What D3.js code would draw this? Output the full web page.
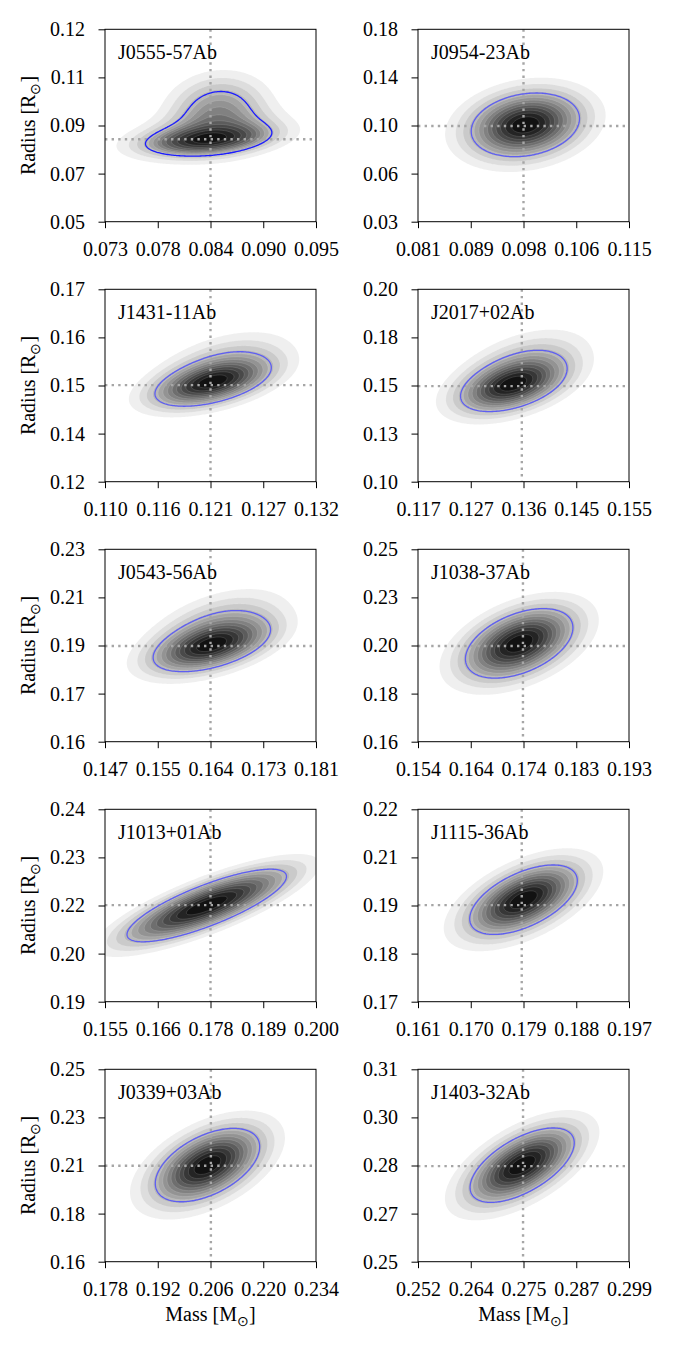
<!DOCTYPE html>
<html><head><meta charset="utf-8">
<script src="https://cdn.jsdelivr.net/npm/d3@7"></script>
<style>body{margin:0;background:#fff}</style>
</head><body>
<svg id="chart" width="675" height="1350"></svg>
<script>
// ---------------- DATA ----------------
const names = ["J0555-57Ab","J0954-23Ab","J1431-11Ab","J2017+02Ab","J0543-56Ab",
               "J1038-37Ab","J1013+01Ab","J1115-36Ab","J0339+03Ab","J1403-32Ab"];
const massTicks = [
  ["0.073","0.078","0.084","0.090","0.095"],
  ["0.081","0.089","0.098","0.106","0.115"],
  ["0.110","0.116","0.121","0.127","0.132"],
  ["0.117","0.127","0.136","0.145","0.155"],
  ["0.147","0.155","0.164","0.173","0.181"],
  ["0.154","0.164","0.174","0.183","0.193"],
  ["0.155","0.166","0.178","0.189","0.200"],
  ["0.161","0.170","0.179","0.188","0.197"],
  ["0.178","0.192","0.206","0.220","0.234"],
  ["0.252","0.264","0.275","0.287","0.299"]
];
const radiusTicks = [
  ["0.05","0.07","0.09","0.11","0.12"],
  ["0.03","0.06","0.10","0.14","0.18"],
  ["0.12","0.14","0.15","0.16","0.17"],
  ["0.10","0.13","0.15","0.18","0.20"],
  ["0.16","0.17","0.19","0.21","0.23"],
  ["0.16","0.18","0.20","0.23","0.25"],
  ["0.19","0.20","0.22","0.23","0.24"],
  ["0.17","0.18","0.19","0.21","0.22"],
  ["0.16","0.18","0.21","0.23","0.25"],
  ["0.25","0.27","0.28","0.30","0.31"]
];
const massMedian   = [0.0840, 0.0980, 0.1210, 0.1357, 0.1640, 0.1734, 0.1775, 0.1787, 0.2061, 0.2754];
const radiusMedian = [0.0800, 0.1046, 0.1451, 0.1497, 0.1948, 0.2048, 0.2151, 0.1951, 0.2049, 0.2798];
// posterior density, read from the picture as blobs:
// [mass centre, radius centre, mass spread, radius spread, correlation, weight]
const posteriorBlobs = [
  [[0.0836,0.0798,0.0036,0.0032,0.30,0.30],[0.0838,0.0810,0.0052,0.0055,0.30,0.30],[0.0848,0.0905,0.0032,0.0080,0.10,0.40]],
  [[0.0983,0.1055,0.0058,0.0165,0.20,1]],
  [[0.1210,0.1455,0.0037,0.0038,0.50,0.6],[0.1222,0.1495,0.0042,0.0055,0.45,0.4]],
  [[0.1338,0.1495,0.0058,0.0085,0.45,0.55],[0.1355,0.1575,0.0068,0.0120,0.45,0.45]],
  [[0.1640,0.1945,0.0058,0.0058,0.50,0.55],[0.1650,0.2005,0.0065,0.0085,0.45,0.45]],
  [[0.1727,0.2060,0.0066,0.0108,0.45,1]],
  [[0.1767,0.2150,0.0119,0.0066,0.80,1]],
  [[0.1790,0.1965,0.0061,0.0060,0.55,1]],
  [[0.2052,0.2052,0.0092,0.0114,0.50,1]],
  [[0.2752,0.2801,0.0077,0.0077,0.60,1]]
];
const credibleMass = 0.68;      // blue contour encloses this fraction
const lowestLevel = 0.08;       // outermost iso-proportion
const nLevels = 14;             // iso-proportion levels (lowest .. 1)

// ---------------- LAYOUT / STYLE ----------------
const FONT = "'Liberation Serif','Times New Roman',serif";
const colX = [105, 418], rowTop = 29.3, rowStep = 260, PW = 211, PH = 192.4;
const blueFirst = "#1c1cff", blueOther = "#5e5ef2";
const svg = d3.select("#chart").style("font-family", FONT);

function density(blobs, mx, ry) {
  let v = 0;
  for (const [cx, cy, sx, sy, r, w] of blobs) {
    const dx = (mx - cx) / sx, dy = (ry - cy) / sy;
    const q = (dx*dx - 2*r*dx*dy + dy*dy) / (1 - r*r);
    v += w / (2*Math.PI*sx*sy*Math.sqrt(1 - r*r)) * Math.exp(-q/2);
  }
  return v;
}
function quantileToLevel(vals, props) {
  const sorted = Array.from(vals).sort((a, b) => b - a);
  const tot = d3.sum(sorted);
  const cum = []; let c = 0;
  for (const s of sorted) { c += s; cum.push(c / tot); }
  return props.map(p => {
    const idx = Math.min(d3.bisectLeft(cum, 1 - p), sorted.length - 1);
    return sorted[idx];
  });
}

names.forEach((name, i) => {
  const col = i % 2, row = Math.floor(i / 2);
  const g = svg.append("g").attr("transform", `translate(${colX[col]},${rowTop + row*rowStep})`);
  const xd = [+massTicks[i][0], +massTicks[i][4]];
  const yd = [+radiusTicks[i][0], +radiusTicks[i][4]];
  const x = d3.scaleLinear().domain(xd).range([0, PW]);
  const y = d3.scaleLinear().domain(yd).range([PH, 0]);

  const clipId = "clip" + i;
  g.append("clipPath").attr("id", clipId).append("rect").attr("width", PW).attr("height", PH);

  // density grid
  const n = 160;
  const vals = new Float64Array(n*n);
  for (let j = 0; j < n; j++) {
    const ry = yd[1] - (j + 0.5)/n*(yd[1] - yd[0]);
    for (let k = 0; k < n; k++) {
      const mx = xd[0] + (k + 0.5)/n*(xd[1] - xd[0]);
      vals[j*n + k] = density(posteriorBlobs[i], mx, ry);
    }
  }
  const props = d3.range(nLevels).map(k => lowestLevel + k*(1 - lowestLevel)/(nLevels - 1));
  const levels = quantileToLevel(vals, props).slice(0, nLevels - 1);
  const proj = d3.geoTransform({
    point(px, py) {
      this.stream.point(x(xd[0] + px/n*(xd[1]-xd[0])), y(yd[1] - py/n*(yd[1]-yd[0])));
    }
  });
  const path = d3.geoPath(proj);
  const contours = d3.contours().size([n, n]).thresholds(levels)(vals);
  const shade = d3.scaleLinear().domain([0, levels.length - 1]).range(["#efefef", "#121212"]);
  const cg = g.append("g").attr("clip-path", `url(#${clipId})`);
  cg.selectAll("path.band").data(contours).join("path")
    .attr("class", "band").attr("d", path)
    .attr("fill", (d, k) => shade(k))
    .attr("stroke", "rgba(255,255,255,0.22)").attr("stroke-width", 0.6);

  // crosshair at medians
  cg.append("line").attr("x1", x(massMedian[i])).attr("x2", x(massMedian[i]))
    .attr("y1", 0).attr("y2", PH)
    .attr("stroke", "#a6a6a6").attr("stroke-width", 2.4).attr("stroke-dasharray", "2.4 4.2");
  cg.append("line").attr("y1", y(radiusMedian[i])).attr("y2", y(radiusMedian[i]))
    .attr("x1", 0).attr("x2", PW)
    .attr("stroke", "#a6a6a6").attr("stroke-width", 2.4).attr("stroke-dasharray", "2.4 4.2");

  // credible contour
  const lvl68 = quantileToLevel(vals, [1 - credibleMass])[0];
  const c68 = d3.contours().size([n, n]).thresholds([lvl68])(vals);
  cg.selectAll("path.cred").data(c68).join("path").attr("class", "cred")
    .attr("d", path).attr("fill", "none")
    .attr("stroke", i === 0 ? blueFirst : blueOther).attr("stroke-width", 1.3);

  // frame
  g.append("rect").attr("width", PW).attr("height", PH).attr("fill", "none")
    .attr("stroke", "#000").attr("stroke-width", 1);

  // axes
  const xt = d3.range(5).map(k => xd[0] + k*(xd[1]-xd[0])/4);
  const yt = d3.range(5).map(k => yd[0] + k*(yd[1]-yd[0])/4);
  const ax = g.append("g").attr("transform", `translate(0,${PH})`)
    .call(d3.axisBottom(x).tickValues(xt).tickFormat((d, k) => massTicks[i][k])
      .tickSizeInner(6.5).tickSizeOuter(0).tickPadding(13.3));
  const ay = g.append("g")
    .call(d3.axisLeft(y).tickValues(yt).tickFormat((d, k) => radiusTicks[i][k])
      .tickSizeInner(6.5).tickSizeOuter(0).tickPadding(13.5));
  [ax, ay].forEach(a => {
    a.select(".domain").remove();
    a.selectAll("line").attr("stroke", "#000").attr("stroke-width", 1);
    a.selectAll("text").attr("font-family", FONT).attr("font-size", 20).attr("fill", "#000");
  });

  // panel label
  g.append("text").attr("x", 13).attr("y", 30).attr("font-size", 20).text(name);

  if (col === 0) {
    const t = g.append("text").attr("transform", `translate(-70,${PH/2}) rotate(-90)`)
      .attr("text-anchor", "middle").attr("font-size", 20);
    t.append("tspan").text("Radius [R");
    t.append("tspan").attr("dy", 5).attr("font-size", 14).text("⊙");
    t.append("tspan").attr("dy", -5).text("]");
  }
  if (row === 4) {
    const t = g.append("text").attr("x", PW/2).attr("y", PH + 59)
      .attr("text-anchor", "middle").attr("font-size", 20);
    t.append("tspan").text("Mass [M");
    t.append("tspan").attr("dy", 5).attr("font-size", 14).text("⊙");
    t.append("tspan").attr("dy", -5).text("]");
  }
});
</script>
</body></html>
